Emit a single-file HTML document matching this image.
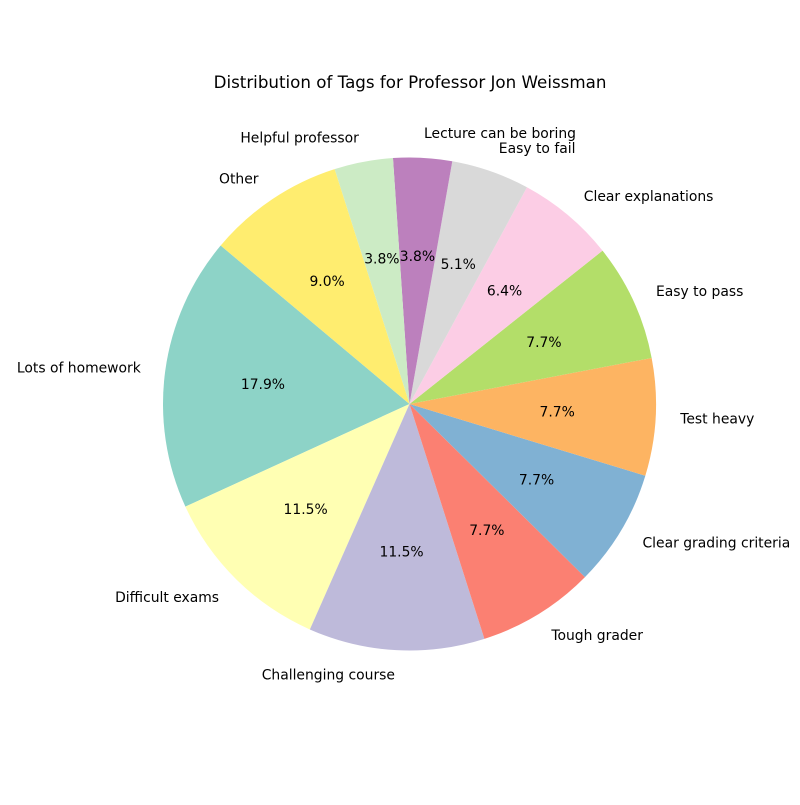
<!DOCTYPE html>
<html><head><meta charset="utf-8"><style>
body{margin:0;background:#fff}
svg text{font-family:"DejaVu Sans","Liberation Sans",sans-serif;fill:#000}
</style></head><body>
<svg id="chart" width="800" height="800" viewBox="0 0 800 800" xmlns="http://www.w3.org/2000/svg">
<rect width="800" height="800" fill="#fff"/>
<text x="410" y="88" font-size="16.7" text-anchor="middle">Distribution of Tags for Professor Jon Weissman</text>
<g id="slices"></g>
</svg>
<script>
const categories = ["Lots of homework","Difficult exams","Challenging course","Tough grader","Clear grading criteria","Test heavy","Easy to pass","Clear explanations","Easy to fail","Lecture can be boring","Helpful professor","Other"];
const counts = [14,9,9,6,6,6,6,5,4,3,3,7];
const colors = ["#8dd3c7","#ffffb3","#bebada","#fb8072","#80b1d3","#fdb462","#b3de69","#fccde5","#d9d9d9","#bc80bd","#ccebc5","#ffed6f"];
const startAngle = 140;
const cx = 409.5, cy = 404, r = 246.5;
const NS = "http://www.w3.org/2000/svg";
const g = document.getElementById("slices");
const total = counts.reduce((a,b)=>a+b,0);
function pt(deg, rad){const a=deg*Math.PI/180;return [cx+rad*Math.cos(a), cy-rad*Math.sin(a)];}
let ang = startAngle;
counts.forEach((v,i)=>{
  const span = v/total*360, a0 = ang, a1 = ang+span, mid = (a0+a1)/2;
  const p0 = pt(a0,r), p1 = pt(a1,r);
  const path = document.createElementNS(NS,"path");
  path.setAttribute("d",`M${cx},${cy} L${p0[0]},${p0[1]} A${r},${r} 0 ${span>180?1:0} 0 ${p1[0]},${p1[1]} Z`);
  path.setAttribute("fill",colors[i]);
  
  
  g.appendChild(path);
  const lp = pt(mid, r*1.1);
  const lt = document.createElementNS(NS,"text");
  lt.setAttribute("x",lp[0]); lt.setAttribute("y",lp[1]+4.8);
  lt.setAttribute("font-size","13.9");
  lt.setAttribute("text-anchor", Math.cos(mid*Math.PI/180)>=0 ? "start" : "end");
  lt.textContent = categories[i];
  
  
  g.appendChild(lt);
  const pp = pt(mid, r*0.6);
  const pt2 = document.createElementNS(NS,"text");
  pt2.setAttribute("x",pp[0]); pt2.setAttribute("y",pp[1]+4.8);
  pt2.setAttribute("font-size","13.9"); pt2.setAttribute("text-anchor","middle");
  pt2.textContent = (v/total*100).toFixed(1)+"%";
  
  
  g.appendChild(pt2);
  ang = a1;
});
</script>
</body></html>
